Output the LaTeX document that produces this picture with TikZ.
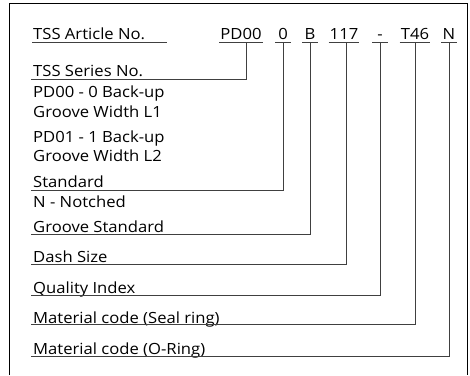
\documentclass[tikz,border=0pt]{standalone}
\usepackage{fontspec}
\setmainfont[FakeStretch=1.08]{Open Sans}
\begin{document}
\begin{tikzpicture}[x=1pt,y=-1pt,
  every node/.style={font=\fontsize{15.4}{18}\selectfont, text=black},
  lbl/.style={anchor=base west, inner sep=0pt},
  code/.style={anchor=base, inner xsep=1pt, inner ysep=0pt, text depth=0pt, minimum width=15pt},
  ln/.style={draw=black!75, line width=0.9pt},
  frame/.style={draw=black, line width=1pt}]
\useasboundingbox (0,0) rectangle (470,375);
\draw[frame] (9,375) -- (9,3) -- (467,3) -- (467,375);

% header
\node[lbl] (art) at (33,39) {TSS Article No.};
\coordinate (artL) at (32,42);
\coordinate (artR) at (167,42);
\draw[ln] (artL) -- (artR);

\node[code, minimum width=41pt] (pd) at (241,39) {PD00};
\node[code] (c0) at (283,39) {0};
\node[code] (cb) at (310,39) {B};
\node[code, minimum width=30pt] (c117) at (344,39) {117};
\node[code] (cd) at (380,39) {-};
\node[code, minimum width=30pt] (ct) at (415,39) {T46};
\node[code] (cn) at (449,39) {N};
\foreach \n in {pd,c0,cb,c117,cd,ct,cn}
  \draw[ln] ([yshift=-3pt]\n.base west) -- ([yshift=-3pt]\n.base east);

% labels
\node[lbl] (ser) at (33,76) {TSS Series No.};
\node[lbl] (p0a) at (33,97) {PD00 - 0 Back-up};
\node[lbl] (p0b) at (33,117) {Groove Width L1};
\node[lbl] (p1a) at (33,142) {PD01 - 1 Back-up};
\node[lbl] (p1b) at (33,161) {Groove Width L2};
\node[lbl] (std) at (33,187) {Standard};
\node[lbl] (notch) at (33,207) {N - Notched};
\node[lbl] (gstd) at (33,232) {Groove Standard};
\node[lbl] (dash) at (33,262) {Dash Size};
\node[lbl] (qual) at (33,293) {Quality Index};
\node[lbl] (seal) at (33,323) {Material code (Seal ring)};
\node[lbl] (oring) at (33,354) {Material code (O-Ring)};

\coordinate (eSer) at (31,79);
\coordinate (eStd) at (31,190);
\coordinate (eGstd) at (31,234.5);
\coordinate (eDash) at (31,264.5);
\coordinate (eQual) at (31,295);
\coordinate (eSeal) at (31,324);
\coordinate (eOring) at (31,356);

\draw[ln] ([xshift=5pt,yshift=-3pt]pd.base) |- (eSer);
\draw[ln] ([yshift=-3pt]c0.base) |- (eStd);
\draw[ln] ([yshift=-3pt]cb.base) |- (eGstd);
\draw[ln] ([xshift=2pt,yshift=-3pt]c117.base) |- (eDash);
\draw[ln] ([yshift=-3pt]cd.base) |- (eQual);
\draw[ln] ([yshift=-3pt]ct.base) |- (eSeal);
\draw[ln] ([yshift=-3pt]cn.base) |- (eOring);
\end{tikzpicture}
\end{document}
